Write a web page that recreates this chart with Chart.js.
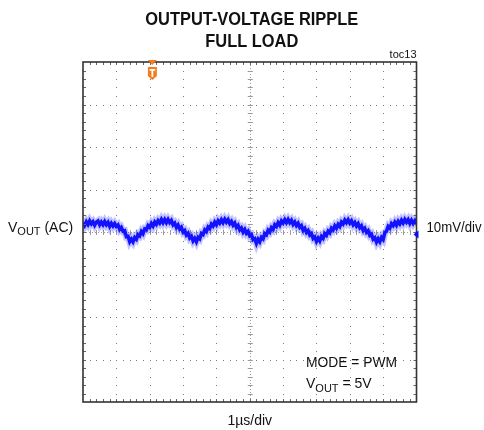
<!DOCTYPE html>
<html>
<head>
<meta charset="utf-8">
<title>Output-Voltage Ripple</title>
<script src="https://cdn.jsdelivr.net/npm/chart.js@4.4.1/dist/chart.umd.min.js"></script>
<style>
  html, body { margin: 0; padding: 0; background: #fff; }
  #wrap { width: 484px; height: 430px; }
</style>
</head>
<body>
<div id="wrap"><canvas id="scope" width="484" height="430"></canvas></div>
<script>
// scope screen: 10 div across (1us/div), 8 div high (10mV/div)
var timeRange = [0, 10];      // us
var voltRange = [-40, 40];    // mV
var sampleStep = 0.05;        // us between samples
var triggerTime = 2.08;       // us, orange T marker
var groundLevel = -0.6;       // mV, blue marker on the right edge

// ripple (mV), one sample every 0.05us
var ripple = [
  2.2, 1.55, 2.4, 1.75, 2.6, 1.9, 2.4, 1.6, 2.3, 2.6, 1.7, 2.35, 1.7, 2.45, 1.7, 2.25, 1.3, 2.05, 1.4, 2.0,
  1.3, 1.65, 0.6, 1.05, 0.2, 0.3, -1.1, -1.0, -2.3, -1.65, -2.3, -1.3, -1.7, -0.6, -0.9, 0.1, -0.4, 0.7, 0.5, 1.5,
  1.1, 2.0, 1.4, 2.35, 1.8, 2.65, 2.1, 2.95, 2.2, 2.95, 2.2, 2.95, 2.2, 2.7, 1.7, 2.1, 1.1, 1.65, 0.7, 1.1,
  0.0, 0.35, -0.7, -0.3, -1.4, -1.0, -2.1, -1.5, -2.3, -1.25, -1.6, -0.35, -0.6, 0.5, 0.1, 1.15, 0.8, 1.85, 1.4, 2.3,
  1.7, 2.65, 2.1, 2.9, 2.2, 3.0, 2.3, 2.9, 2.0, 2.5, 1.6, 2.1, 1.1, 1.55, 0.5, 0.95, 0.0, 0.6, -0.3, 0.15,
  -0.9, -0.65, -1.8, -1.55, -2.7, -1.7, -2.3, -1.25, -1.6, -0.4, -0.7, 0.4, 0.0, 1.0, 0.6, 1.7, 1.3, 2.2, 1.6, 2.6,
  2.1, 2.9, 2.2, 2.95, 2.2, 2.75, 1.8, 2.35, 1.5, 2.05, 1.1, 1.5, 0.4, 0.85, -0.1, 0.35, -0.7, -0.35, -1.5, -1.15,
  -2.2, -1.45, -2.1, -1.05, -1.5, -0.4, -0.8, 0.2, -0.2, 0.9, 0.5, 1.45, 0.9, 1.8, 1.3, 2.35, 1.9, 2.8, 2.2, 2.9,
  2.1, 2.65, 1.7, 2.25, 1.4, 1.95, 1.0, 1.45, 0.4, 0.85, -0.1, 0.3, -0.8, -0.5, -1.7, -1.35, -2.4, -1.6, -2.3, -1.3,
  -1.8, -0.15, 0.2, 1.3, 0.9, 1.95, 1.5, 2.3, 1.6, 2.5, 1.9, 2.75, 2.1, 2.95, 2.3, 2.9, 2.0, 2.75, 2.0, 2.65,
  1.9
];

var titleLines = ["OUTPUT-VOLTAGE RIPPLE", "FULL LOAD"];
var figureTag = "toc13";
var timeLabel = "1µs/div";
var voltLabel = "10mV/div";
var modeNote = "MODE = PWM";

var FONT = '"Liberation Sans", Arial, sans-serif';

var tracePoints = ripple.map(function(v, i) {
  return { x: i * sampleStep, y: v };
});

// "V" + subscript "OUT" + rest
function drawVout(ctx, x, y, rest, size) {
  ctx.textAlign = 'left';
  ctx.font = size + 'px ' + FONT;
  ctx.fillText('V', x, y);
  x += ctx.measureText('V').width;
  ctx.font = Math.round(size * 0.8) + 'px ' + FONT;
  ctx.fillText('OUT', x, y + 3.5);
  x += ctx.measureText('OUT').width;
  ctx.font = size + 'px ' + FONT;
  ctx.fillText(rest, x, y);
}

var scopeScreen = {
  id: 'scopeScreen',
  beforeDatasetsDraw: function(chart) {
    var ctx = chart.ctx, xs = chart.scales.x, ys = chart.scales.y;
    var a = chart.chartArea;
    var i, j, px, py;
    ctx.save();
    // dotted graticule: one dot every 1/5 division
    ctx.fillStyle = '#7a7a7a';
    for (i = 1; i < 10; i++) {
      if (i === 5) continue;
      px = Math.round(xs.getPixelForValue(i));
      for (j = 1; j < 40; j++) {
        py = Math.round(ys.getPixelForValue(voltRange[0] + j * 2));
        ctx.fillRect(px, py, 1, 1);
      }
    }
    for (j = 1; j < 8; j++) {
      if (j === 4) continue;
      py = Math.round(ys.getPixelForValue(voltRange[0] + j * 10));
      for (i = 1; i < 50; i++) {
        px = Math.round(xs.getPixelForValue(i * 0.2));
        ctx.fillRect(px, py, 1, 1);
      }
    }
    // centre cross with minor ticks
    var cx = xs.getPixelForValue(5), cy = ys.getPixelForValue(0);
    ctx.strokeStyle = '#9a9a9a';
    ctx.lineWidth = 1;
    ctx.setLineDash([1, 2]);
    ctx.beginPath();
    ctx.moveTo(a.left, Math.round(cy) + 0.5);
    ctx.lineTo(a.right, Math.round(cy) + 0.5);
    ctx.moveTo(Math.round(cx) + 0.5, a.top);
    ctx.lineTo(Math.round(cx) + 0.5, a.bottom);
    ctx.stroke();
    ctx.setLineDash([]);
    ctx.beginPath();
    for (i = 1; i < 50; i++) {
      px = Math.round(xs.getPixelForValue(i * 0.2)) + 0.5;
      ctx.moveTo(px, cy - 2);
      ctx.lineTo(px, cy + 3);
    }
    for (j = 1; j < 40; j++) {
      py = Math.round(ys.getPixelForValue(voltRange[0] + j * 2)) + 0.5;
      ctx.moveTo(cx - 2, py);
      ctx.lineTo(cx + 3, py);
    }
    ctx.stroke();
    ctx.restore();
  },
  afterDatasetsDraw: function(chart) {
    var ctx = chart.ctx, xs = chart.scales.x, ys = chart.scales.y;
    var a = chart.chartArea;
    var i, px, py;
    ctx.save();
    // frame ticks
    ctx.strokeStyle = '#666';
    ctx.lineWidth = 1;
    ctx.beginPath();
    for (i = 1; i < 50; i++) {
      px = Math.round(xs.getPixelForValue(i * 0.2)) + 0.5;
      ctx.moveTo(px, a.top);
      ctx.lineTo(px, a.top + 3);
      ctx.moveTo(px, a.bottom);
      ctx.lineTo(px, a.bottom - 3);
    }
    for (i = 1; i < 40; i++) {
      py = Math.round(ys.getPixelForValue(voltRange[0] + i * 2)) + 0.5;
      ctx.moveTo(a.left, py);
      ctx.lineTo(a.left + 3, py);
      ctx.moveTo(a.right, py);
      ctx.lineTo(a.right - 3, py);
    }
    ctx.stroke();
    // frame
    ctx.strokeStyle = '#333';
    ctx.lineWidth = 1.6;
    ctx.strokeRect(a.left, a.top, a.right - a.left, a.bottom - a.top);

    // trigger marker
    var tx = xs.getPixelForValue(triggerTime);
    ctx.fillStyle = '#f47c1c';
    ctx.beginPath();
    ctx.moveTo(tx - 4.5, a.top - 2);
    ctx.lineTo(tx + 4.5, a.top - 2);
    ctx.lineTo(tx, a.top + 3);
    ctx.closePath();
    ctx.fill();
    ctx.beginPath();
    ctx.moveTo(tx - 4.5, a.top + 5);
    ctx.lineTo(tx + 4.5, a.top + 5);
    ctx.lineTo(tx + 4.5, a.top + 14);
    ctx.lineTo(tx, a.top + 18);
    ctx.lineTo(tx - 4.5, a.top + 14);
    ctx.closePath();
    ctx.fill();
    ctx.fillStyle = '#fff';
    ctx.fillRect(tx - 2.8, a.top + 7, 5.6, 1.8);
    ctx.fillRect(tx - 0.9, a.top + 7, 1.8, 8);

    // ground marker
    var gy = ys.getPixelForValue(groundLevel);
    ctx.fillStyle = '#0a0aff';
    ctx.beginPath();
    ctx.moveTo(a.right + 2, gy - 4);
    ctx.lineTo(a.right + 2, gy + 4);
    ctx.lineTo(a.right - 3, gy);
    ctx.closePath();
    ctx.fill();
    ctx.restore();
  },
  afterDraw: function(chart) {
    var ctx = chart.ctx, a = chart.chartArea;
    var cx = (a.left + a.right) / 2;
    ctx.save();
    ctx.fillStyle = '#111';
    ctx.textAlign = 'center';
    ctx.font = 'bold 18px ' + FONT;
    ctx.fillText(titleLines[0], cx + 2, 25, 213);
    ctx.fillText(titleLines[1], cx + 2, 46.5, 93);

    ctx.textAlign = 'right';
    ctx.font = '11px ' + FONT;
    ctx.fillText(figureTag, a.right, 57.5);

    ctx.textAlign = 'center';
    ctx.font = '14px ' + FONT;
    ctx.fillText(timeLabel, cx, 425);

    ctx.textAlign = 'left';
    ctx.fillText(voltLabel, a.right + 10, 231.5, 55);
    drawVout(ctx, 8, 231.5, ' (AC)', 14);

    ctx.font = '14px ' + FONT;
    ctx.fillText(modeNote, 306, 367, 91);
    drawVout(ctx, 306, 388, ' = 5V', 14);
    ctx.restore();
  }
};

var chart = new Chart(document.getElementById('scope').getContext('2d'), {
  type: 'line',
  data: {
    datasets: [{
      data: tracePoints,
      borderColor: 'rgba(40, 40, 255, 0.28)',
      borderWidth: 7,
      pointRadius: 0,
      tension: 0
    }, {
      data: tracePoints,
      borderColor: '#0a0aff',
      borderWidth: 3.5,
      pointRadius: 0,
      tension: 0
    }]
  },
  options: {
    responsive: false,
    animation: false,
    events: [],
    layout: { padding: { left: 83, right: 67.5, top: 62, bottom: 28 } },
    plugins: { legend: { display: false }, tooltip: { enabled: false } },
    scales: {
      x: { type: 'linear', display: false, min: timeRange[0], max: timeRange[1] },
      y: { type: 'linear', display: false, min: voltRange[0], max: voltRange[1] }
    }
  },
  plugins: [scopeScreen]
});
</script>
</body>
</html>
